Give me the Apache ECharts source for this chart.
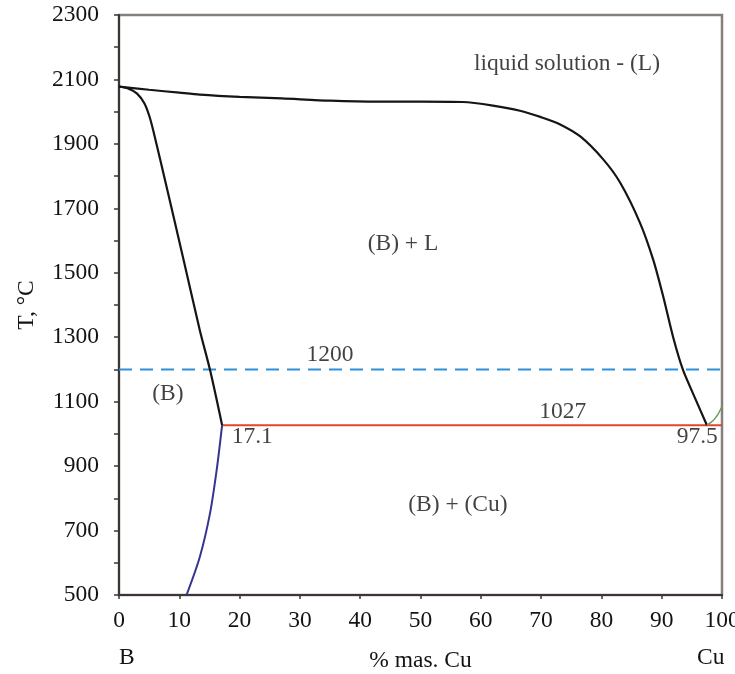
<!DOCTYPE html>
<html>
<head>
<meta charset="utf-8">
<title>B–Cu phase diagram</title>
<script src="https://cdn.jsdelivr.net/npm/echarts@6/dist/echarts.min.js"></script>
<style>
  html, body { margin: 0; padding: 0; background: #fff; }
  #chart { width: 735px; height: 674px; }
</style>
</head>
<body>
<div id="chart"></div>
<script>
// Composition axis (% mass Cu) and temperature axis (°C)
const xTicks = [0, 10, 20, 30, 40, 50, 60, 70, 80, 90, 100];
const yTicks = [500, 700, 900, 1100, 1300, 1500, 1700, 1900, 2100, 2300];

// Liquidus: melting point of B down to the eutectic near the Cu side
const liquidusCu = [0, 5, 10, 13.4, 20, 27, 35, 43, 50, 57, 62, 66.5, 70, 73, 76.5, 80.3, 83.1, 86.4, 88.6, 90.2, 91.9, 93.5, 95.2, 97.5];
const liquidusT  = [2078, 2068, 2059, 2053, 2046, 2041, 2034, 2031, 2031, 2030, 2019, 2003, 1983, 1962, 1923, 1852, 1780, 1655, 1540, 1430, 1300, 1200, 1125, 1027];

// Solidus of the (B) solid solution
const solidusCu = [0, 1.5, 3.0, 4.2, 5.0, 5.7, 7.9, 10.6, 13.4, 15.1, 17.1];
const solidusT  = [2078, 2072, 2056, 2026, 1988, 1940, 1766, 1549, 1322, 1198, 1027];

// Solvus of (B) below the eutectic
const solvusCu = [17.1, 16.2, 15.1, 13.4, 11.2];
const solvusT  = [1027, 888, 754, 618, 500];

// Cu-side solidus above the eutectic
const cuSideCu = [97.5, 98.5, 99.3, 100];
const cuSideT  = [1027, 1041, 1060, 1085];

// Eutectic and reference isotherms
const eutecticT = 1027;
const eutecticLeft = 17.1;
const eutecticRight = 97.5;
const isothermT = 1200;

// Phase-region captions [x, T, text]
const regionLabels = [
  [74.3, 2148, 'liquid solution - (L)'],
  [47.1, 1590, '(B) + L'],
  [8.1, 1125, '(B)'],
  [56.2, 780, '(B) + (Cu)']
];

const FONT = '"Liberation Serif", "Times New Roman", serif';
const FS = 23.5;
const TXT = '#151312';

const pair = (xs, ys) => xs.map((x, i) => [x, ys[i]]);

const lineSeries = (name, data, color, width, extra) => Object.assign({
  name, type: 'line', data,
  showSymbol: false, symbol: 'none', animation: false,
  lineStyle: { color, width },
  z: 3
}, extra || {});

const valueLabels = [
  [35.0, isothermT + 46, String(isothermT)],
  [73.6, eutecticT + 42, String(eutecticT)],
  [eutecticLeft + 5.0, eutecticT - 37, String(eutecticLeft)],
  [eutecticRight - 1.6, eutecticT - 37, String(eutecticRight)]
];

const textSeries = (rows) => ({
  type: 'scatter',
  data: rows.map(r => ({ value: [r[0], r[1]], label: { formatter: r[2] } })),
  symbolSize: 0,
  animation: false,
  silent: true,
  z: 5,
  label: {
    show: true, position: 'inside',
    color: TXT, fontFamily: FONT, fontSize: FS
  }
});

const chart = echarts.init(document.getElementById('chart'), null, { renderer: 'canvas' });

chart.setOption({
  backgroundColor: '#ffffff',
  animation: false,
  grid: {
    left: 119, right: 13, top: 15, bottom: 79,
    outerBoundsMode: 'none', containLabel: false,
    show: true, borderColor: '#857f7c', borderWidth: 2.5,
    backgroundColor: 'transparent'
  },
  xAxis: {
    type: 'value', min: 0, max: 100, interval: 10,
    name: '% mas. Cu', nameLocation: 'middle', nameGap: 54,
    nameTextStyle: { fontFamily: FONT, fontSize: FS, color: TXT },
    axisLine: { show: true, onZero: false, lineStyle: { color: '#3b3633', width: 2 } },
    axisTick: { show: true, inside: false, length: 4, lineStyle: { color: '#3b3633', width: 1.5 } },
    axisLabel: {
      margin: 14, fontFamily: FONT, fontSize: FS, color: TXT,
      formatter: v => (xTicks.indexOf(v) >= 0 ? String(v) : '')
    },
    splitLine: { show: false }
  },
  yAxis: {
    type: 'value', min: 500, max: 2300, interval: 100,
    name: 'T, °C', nameLocation: 'middle', nameGap: 80, nameRotate: 90,
    nameTextStyle: { fontFamily: FONT, fontSize: FS, color: TXT },
    axisLine: { show: true, onZero: false, lineStyle: { color: '#3b3633', width: 2 } },
    axisTick: { show: true, inside: false, length: 5, lineStyle: { color: '#3b3633', width: 1.5 } },
    axisLabel: {
      margin: 20, fontFamily: FONT, fontSize: FS, color: TXT,
      formatter: v => (yTicks.indexOf(v) >= 0 ? String(v) : '')
    },
    splitLine: { show: false }
  },
  graphic: [
    { type: 'text', left: 119, top: 646, style: { text: 'B', font: FS + 'px ' + FONT, fill: TXT } },
    { type: 'text', left: 697, top: 646, style: { text: 'Cu', font: FS + 'px ' + FONT, fill: TXT } }
  ],
  series: [
    lineSeries('isotherm', [[0, isothermT], [100, isothermT]], '#2f8fdb', 2, {
      lineStyle: { color: '#2f8fdb', width: 2, type: [13, 8] }, z: 2
    }),
    lineSeries('eutectic', [[eutecticLeft, eutecticT], [100, eutecticT]], '#e5432d', 2),
    lineSeries('liquidus', pair(liquidusCu, liquidusT), '#151515', 2.2, { smooth: 0.25 }),
    lineSeries('solidus', pair(solidusCu, solidusT), '#151515', 2.2, { smooth: 0.3 }),
    lineSeries('solvus', pair(solvusCu, solvusT), '#35358f', 2, { smooth: 0.3 }),
    lineSeries('cu-side', pair(cuSideCu, cuSideT), '#6f9a58', 1.5, { smooth: 0.3 }),
    textSeries(regionLabels),
    textSeries(valueLabels)
  ]
});
</script>
</body>
</html>
